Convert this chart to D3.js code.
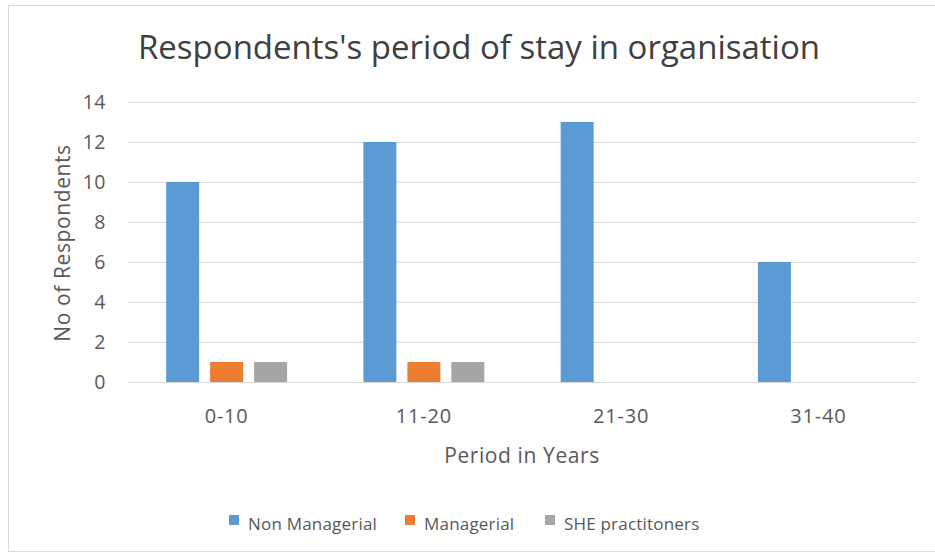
<!DOCTYPE html>
<html>
<head>
<meta charset="utf-8">
<script src="https://cdn.jsdelivr.net/npm/d3@7"></script>
<style>
  body { margin: 0; background: #fff; }
  text { font-family: "Open Sans", sans-serif; fill: #595959; }
</style>
</head>
<body>
<div id="chart"></div>
<script>
const categories = ['0-10', '11-20', '21-30', '31-40'];
const seriesNames = ['Non Managerial', 'Managerial', 'SHE practitoners'];
const nonManagerial = [10, 12, 13, 6];
const managerial = [1, 1, 0, 0];
const shePractitioners = [1, 1, 0, 0];
const yTicks = [0, 2, 4, 6, 8, 10, 12, 14];
const colors = ['#5b9bd5', '#ed7d31', '#a5a5a5'];

const seriesValues = [nonManagerial, managerial, shePractitioners];

const width = 935, height = 554;
const plot = { left: 128, right: 917, top: 102, bottom: 382 };

const svg = d3.select('#chart')
    .append('svg')
    .attr('width', width)
    .attr('height', height);

// chart frame
svg.append('rect')
    .attr('x', 8.5)
    .attr('y', 5.5)
    .attr('width', 940)
    .attr('height', 546)
    .attr('fill', 'none')
    .attr('stroke', '#d9d9d9');

const x0 = d3.scaleBand()
    .domain(categories)
    .range([plot.left, plot.right])
    .paddingInner(0.387)
    .paddingOuter(0.1935);

const x1 = d3.scaleBand()
    .domain(seriesNames)
    .range([0, x0.bandwidth()])
    .paddingInner(0.25);

const y = d3.scaleLinear()
    .domain([0, 14])
    .range([plot.bottom, plot.top]);

// gridlines
svg.append('g')
    .selectAll('line')
    .data(yTicks)
    .join('line')
    .attr('x1', plot.left)
    .attr('x2', plot.right)
    .attr('y1', d => y(d) + 0.5)
    .attr('y2', d => y(d) + 0.5)
    .attr('stroke', '#d9d9d9')
    .attr('stroke-width', 1);

// y tick labels
svg.append('g')
    .selectAll('text')
    .data(yTicks)
    .join('text')
    .attr('x', 106)
    .attr('y', d => y(d))
    .attr('dy', '0.36em')
    .attr('text-anchor', 'end')
    .style('font-size', '19.5px')
    .style('letter-spacing', '0.5px')
    .text(d => d);

// bars
const groups = svg.append('g')
    .selectAll('g')
    .data(categories)
    .join('g')
    .attr('transform', d => `translate(${x0(d)},0)`);

groups.selectAll('rect')
    .data((d, i) => seriesNames.map((s, j) => ({ s, v: seriesValues[j][i], c: colors[j] })))
    .join('rect')
    .attr('x', d => x1(d.s))
    .attr('width', x1.bandwidth())
    .attr('y', d => y(d.v))
    .attr('height', d => y(0) - y(d.v))
    .attr('fill', d => d.c);

// x tick labels
svg.append('g')
    .selectAll('text')
    .data(categories)
    .join('text')
    .attr('x', d => x0(d) + x0.bandwidth() / 2)
    .attr('y', 423)
    .attr('text-anchor', 'middle')
    .style('font-size', '20px')
    .style('letter-spacing', '0.8px')
    .text(d => d);

// title
svg.append('text')
    .attr('x', 479)
    .attr('y', 59)
    .attr('text-anchor', 'middle')
    .style('font-size', '33px')
    .style('fill', '#404040')
    .text("Respondents's period of stay in organisation");

// axis titles
svg.append('text')
    .attr('x', 522)
    .attr('y', 463)
    .attr('text-anchor', 'middle')
    .style('font-size', '21px')
    .style('letter-spacing', '0.6px')
    .text('Period in Years');

svg.append('text')
    .attr('transform', 'translate(70,243) rotate(-90)')
    .attr('text-anchor', 'middle')
    .style('font-size', '21px')
    .style('letter-spacing', '0.6px')
    .text('No of Respondents');

// legend
const legendX = [229, 405, 545];
const legend = svg.append('g')
    .selectAll('g')
    .data(seriesNames)
    .join('g')
    .attr('transform', (d, i) => `translate(${legendX[i]},515)`);

legend.append('rect')
    .attr('width', 10)
    .attr('height', 10)
    .attr('fill', (d, i) => colors[i]);

legend.append('text')
    .attr('x', 19)
    .attr('y', 15)
    .style('font-size', '17px')
    .style('letter-spacing', '0.2px')
    .text(d => d);
</script>
</body>
</html>
